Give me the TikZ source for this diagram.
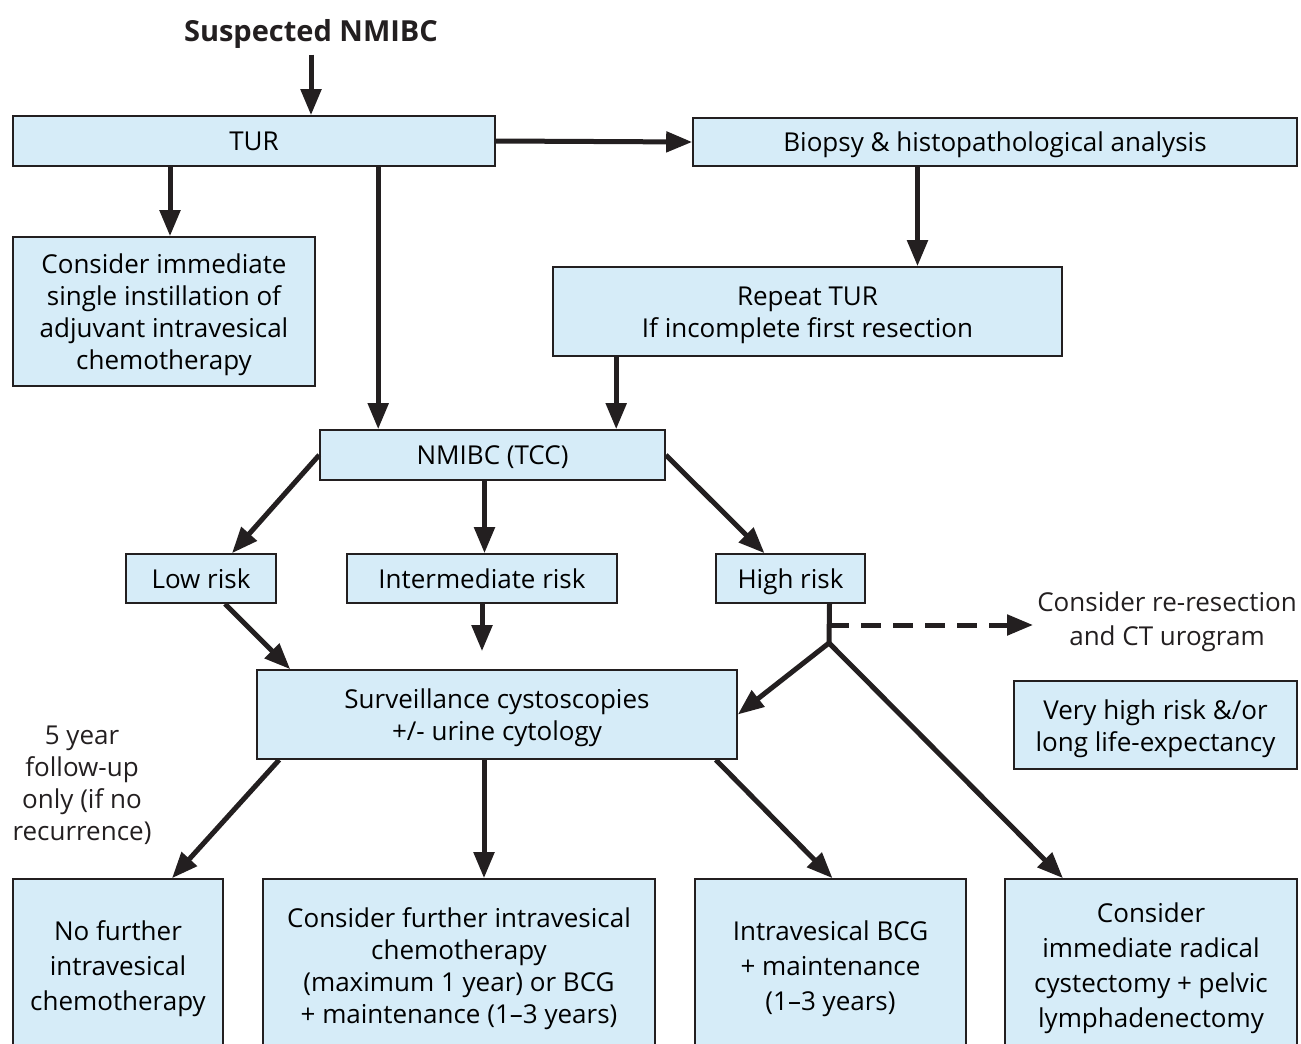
\documentclass[tikz,border=0pt]{standalone}
\usepackage{fontspec}
\setmainfont{Open Sans}
\usetikzlibrary{arrows.meta,positioning}
\definecolor{boxblue}{HTML}{D6ECF8}
\definecolor{ink}{HTML}{231F20}
\newcommand{\flowfont}{\fontsize{26}{32}\selectfont}
\newcommand{\wideflowfont}{\fontsize{26}{35}\selectfont}
\newcommand{\titlefont}{\fontsize{29}{34}\selectfont\bfseries}
\newcommand{\ts}{\rule{0pt}{27pt}}
\tikzset{
  box/.style={draw=ink, line width=1.6pt, fill=boxblue, align=center, inner sep=0pt, font=\flowfont},
  onebox/.style={box, text depth=0pt},
  plain/.style={align=center, inner sep=0pt, font=\flowfont, text=ink},
  arr/.style={draw=ink, line width=5pt, -{Triangle[length=26pt,width=20pt]}},
  ln/.style={draw=ink, line width=5pt},
}

\begin{document}
\begin{tikzpicture}[x=1pt,y=-1pt]
\useasboundingbox (0,0) rectangle (1301,1044);
\begin{scope}
\clip (0,0) rectangle (1301,1044);

% top part
\node[font=\titlefont, text=ink, text depth=0pt] (start) at (311,30) {Suspected NMIBC};
\node[onebox, minimum width=482pt, minimum height=50pt] (tur) at (254,141) {TUR};
\node[onebox, minimum width=604pt, minimum height=48pt] (biopsy) at (995,142) {Biopsy \& histopathological analysis};
\node[box, minimum width=302pt, minimum height=149pt] (imm) at (164,311.5)
  {\ts Consider immediate\\single instillation of\\adjuvant intravesical\\chemotherapy};
\node[box, minimum width=509pt, minimum height=89pt] (repeat) at (807.5,311.5) {\ts Repeat TUR\\If incomplete first resection};

% risk groups
\node[onebox, minimum width=345pt, minimum height=50pt] (nmibc) at (492.5,455) {NMIBC (TCC)};
\node[onebox, minimum width=150pt, minimum height=49pt] (low) at (201,578.5) {Low risk};
\node[onebox, minimum width=270pt, minimum height=49pt] (inter) at (482,578.5) {Intermediate risk};
\node[onebox, minimum width=149pt, minimum height=49pt] (high) at (790.5,578.5) {High risk};
\node[plain, font=\fontsize{26}{34}\selectfont] (rere) at (1167,622) {Consider re-resection\\and CT urogram};
\node[box, minimum width=480pt, minimum height=89pt] (surv) at (497,714.5) {\ts Surveillance cystoscopies\\+/- urine cytology};
\node[box, minimum width=283pt, minimum height=88pt] (vhigh) at (1155.5,725) {\ts Very high risk \&/or\\long life-expectancy};
\node[plain] (fiveyr) at (82,785) {5 year\\follow-up\\only (if no\\recurrence)};

% treatments
\node[box, font=\wideflowfont, minimum width=210pt, minimum height=172pt] (nofur) at (118,965) {\ts No further\\intravesical\\chemotherapy};
\node[box, minimum width=392pt, minimum height=172pt] (cfur) at (459,965)
  {\ts Consider further intravesical\\chemotherapy\\(maximum 1 year) or BCG\\+ maintenance (1--3 years)};
\node[box, font=\wideflowfont, minimum width=271pt, minimum height=172pt] (bcg) at (830.5,965) {\ts Intravesical BCG\\+ maintenance\\(1--3 years)};
\node[box, font=\wideflowfont, minimum width=292pt, minimum height=172pt] (rad) at (1151,965)
  {\ts Consider\\immediate radical\\cystectomy + pelvic\\lymphadenectomy};

\coordinate (hd) at (829,625);
\coordinate (hj) at (829,643);

% connectors
\draw[arr] ([yshift=-10pt]start.south) -- (start.south |- tur.north);
\draw[arr] (tur.east) -- (biopsy.west);
\draw[arr] ([xshift=6pt]imm.north |- tur.south) -- ([xshift=6pt]imm.north);
\draw[arr] ([xshift=59pt]nmibc.north west |- tur.south) -- ([xshift=59pt]nmibc.north west);
\draw[arr] ([xshift=110pt]repeat.north |- biopsy.south) -- ([xshift=110pt]repeat.north);
\draw[arr] ([xshift=64pt]repeat.south west) -- ([xshift=64pt]nmibc.north west -| repeat.south west);
\draw[arr] (nmibc.west) -- ([xshift=31pt]low.north);
\draw[arr] ([xshift=-8pt]nmibc.south) -- ([xshift=-8pt]nmibc.south |- inter.north);
\draw[arr] (nmibc.east) -- ([xshift=-26pt]high.north);
\draw[arr] ([xshift=24pt]low.south) -- ([xshift=34pt]surv.north west);
\draw[arr] (inter.south) -- ([yshift=18pt]inter.south |- surv.north);
\draw[ln] ([xshift=39pt]high.south) -- (hj);
\draw[arr, dash pattern=on 20pt off 12pt] (hd) -- ([xshift=-4pt]rere.west |- hd);
\draw[arr] (hj) -- (surv.east);
\draw[arr] (hj) -- ([xshift=-88pt]rad.north);
\draw[arr] ([xshift=23pt]surv.south west) -- ([xshift=54pt]nofur.north);
\draw[arr] ([xshift=-13pt]surv.south) -- ([xshift=-13pt]surv.south |- cfur.north);
\draw[arr] ([xshift=-22pt]surv.south east) -- ([xshift=2pt]bcg.north);
\end{scope}
\end{tikzpicture}
\end{document}
